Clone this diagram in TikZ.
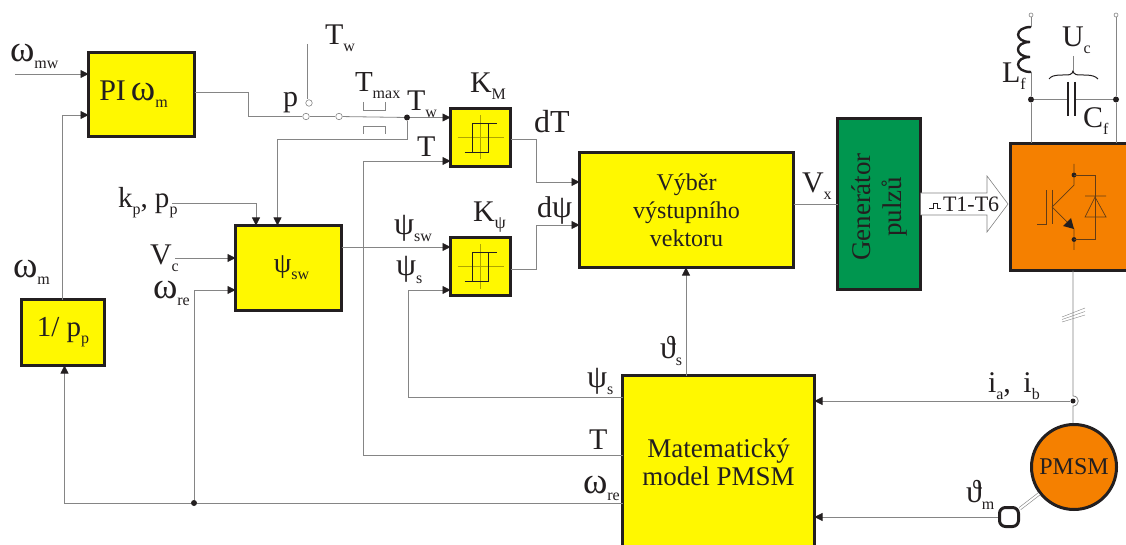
\documentclass[tikz,border=0pt]{standalone}
\usepackage{fontspec}
\setmainfont{Liberation Serif}
\usetikzlibrary{arrows.meta,shapes,positioning,calc}

\definecolor{ink}{HTML}{231F20}
\definecolor{wire}{HTML}{858585}
\definecolor{blockyellow}{HTML}{FFF800}
\definecolor{blockgreen}{HTML}{00964F}
\definecolor{blockorange}{HTML}{F58000}

\newcommand{\fsize}[1]{\fontsize{#1}{#1}\selectfont}
\newcommand{\lowidx}[1]{\raisebox{-7pt}{\fontsize{16}{16}\selectfont #1}}
\newcommand{\grk}[1]{{\fsize{37}#1}}
\newcommand{\psig}{{\fsize{32}ψ}}
% hysteresis mark inside a comparator
\newcommand{\hystmark}[1]{
\begin{scope}[shift={(#1.center)}]
\draw[olive!70!yellow, line width=0.5pt] (-23,0) -- (23,0) (0,-22) -- (0,22);
\draw[ink, line width=1.6pt] (-16,15) -- (8,15) -- (8,-14) -- (-8,-14) (16,-14) -- (-8,-14) -- (-8,15);
\end{scope}
}

\tikzset{
  block/.style={draw=ink, line width=3pt, fill=blockyellow, rectangle, inner sep=0pt, outer sep=0pt, align=center, text=ink},
  lbl/.style={anchor=base west, inner sep=0pt, outer sep=0pt, text=ink, font=\fsize{30}},
  line/.style={draw=wire, line width=0.8pt},
  sig/.style={line, -{Triangle[length=8pt,width=8pt,color=ink]}},
  dotnode/.style={circle, fill=ink, inner sep=0pt, minimum size=6pt},
  contact/.style={circle, draw=wire, fill=white, line width=0.6pt, inner sep=0pt, minimum size=6.5pt},
  terminal/.style={circle, draw=wire, fill=white, line width=0.6pt, inner sep=0pt, minimum size=4pt}
}

\begin{document}
\begin{tikzpicture}[x=1pt, y=-1pt]
\clip (0,0) rectangle (1126,545);
\fill[white] (0,0) rectangle (1126,545);

% blocks
\node[block, minimum width=106pt, minimum height=84pt, font=\fsize{30}] (PI) at (141.5,94.5) {\hspace*{-16pt}\raisebox{-2pt}{PI\,\grk{ω}\lowidx{m}}};
\node[block, minimum width=83pt, minimum height=66pt, font=\fsize{29}] (invpp) at (63,332.5) {1/ p\lowidx{p}};
\node[block, minimum width=106pt, minimum height=85pt, font=\fsize{28}] (psisw) at (288.5,268) {\hspace*{6pt}ψ\lowidx{sw}};
\node[block, minimum width=60pt, minimum height=58pt] (KM) at (480.5,137.5) {};
\node[block, minimum width=60pt, minimum height=58pt] (Kpsi) at (480.5,266.5) {};
\node[block, minimum width=214pt, minimum height=115pt, font=\fsize{24}] (vyber) at (686.5,210) {Výběr\\[4pt]výstupního\\[4pt]vektoru};
\node[block, fill=blockgreen, minimum width=83pt, minimum height=171pt] (gen) at (879,204) {};
\node[text=ink, font=\fsize{27}, align=center, rotate=90, inner sep=0pt] (gentext) at (879,207) {Generátor\\[4pt]pulzů};
\node[block, fill=blockorange, minimum width=120pt, minimum height=127pt] (inv) at (1070,207) {};
\node[block, minimum width=192pt, minimum height=173pt, font=\fsize{27}] (model) at (718.5,462) {Matematický\\[1pt]model PMSM};
\node[circle, draw=ink, line width=3pt, fill=blockorange, minimum size=85pt, inner sep=0pt, text=ink, font=\fsize{24}] (pmsm) at (1074,467) {PMSM};
\node[draw=ink, line width=3pt, rounded corners=6pt, minimum size=19pt, inner sep=0pt] (encoder) at (1009,517) {};
\hystmark{KM}
\hystmark{Kpsi}

% free ends and branch points
\coordinate (wmw) at (15,74);
\coordinate (kpin) at (172,203);
\coordinate (vcin) at (175,258);
\coordinate (twtop) at (307,44);
\node[contact] (swin) at (306,116.5) {};
\node[contact] (swout) at (339,116.5) {};
\node[contact] (swup) at (309,103) {};
\node[dotnode] (jtw) at (407,117.5) {};
\node[dotnode] (jwre) at (194,503) {};
\node[terminal] (termL) at (1031,15) {};
\node[terminal] (termR) at (1116,15) {};
\node[dotnode] (jcapL) at (1031,99.5) {};
\node[dotnode] (jcapR) at (1116,99.5) {};
\node[dotnode, minimum size=5pt] (jcur) at (1073,401) {};

% signals
\draw[sig] (wmw) -- (PI.west |- wmw);
\draw[sig] (invpp.north -| 62,0) -- (62,115) -- (PI.west |- 0,115);
\draw[line] (PI.east |- 0,92) -- (248,92) -- (248,116.5) -- (swin);
\draw[line] (swin.east) -- (swout.west);
\draw[line] (twtop) -- (swup.north -| twtop);
\draw[line] (swout) -- (jtw);
\draw[sig] (jtw) -- (KM.west |- jtw);
\draw[sig] (jtw) -- (407,139) -- (277.5,139) -- (psisw.north -| 277.5,0);
\draw[sig] (kpin) -- (256,203) -- (psisw.north -| 256,0);
\draw[sig] (vcin) -- (psisw.west |- vcin);
\draw[sig] (jwre) -- (194,290) -- (psisw.west |- 0,290);
\draw[sig] (psisw.east |- 0,247) -- (Kpsi.west |- 0,247);
\draw[sig] (model.west |- 0,397) -- (408,397) -- (408,290) -- (Kpsi.west |- 0,290);
\draw[sig] (model.west |- 0,455) -- (363,455) -- (363,161) -- (KM.west |- 0,161);
\draw[line] (model.west |- 0,503) -- (jwre);
\draw[sig] (jwre) -- (64.5,503) -- (invpp.south -| 64.5,0);
\draw[sig] (KM.east |- 0,139) -- (536,139) -- (536,182) -- (vyber.west |- 0,182);
\draw[sig] (Kpsi.east |- 0,269) -- (536,269) -- (536,225) -- (vyber.west |- 0,225);
\draw[sig] (model.north -| 686,0) -- (vyber.south -| 686,0);
\draw[line] (vyber.east |- gen.center) -- (gen.west);
\draw[sig] (jcur) -- (model.east |- jcur);
\draw[sig] (encoder) -- (model.east |- encoder);
\draw[line, double=white, double distance=2pt, line width=0.6pt] (encoder) -- (pmsm);

% pulse arrow
\draw[draw=wire, fill=white, line width=0.6pt] (gen.east |- 0,193) -- (987,193) -- (987,176) -- (1008,204) -- (987,232) -- (987,215) -- (gen.east |- 0,215);
\draw[ink, line width=0.5pt] (929,208) -- (933,208) -- (933,203) -- (937,203) -- (937,208) -- (941,208);
\node[lbl, font=\fsize{22}] (pulselbl) at (943,212) {T1-T6};

% power part
\draw[line] (termL) -- (1031,27);
\draw[ink, line width=2.4pt] (1031,27) .. controls (1014,27) and (1014,42) .. (1030,42) .. controls (1014,42) and (1014,57) .. (1030,57) .. controls (1014,57) and (1014,72) .. (1031,72);
\draw[line] (1031,72) -- (jcapL) -- (inv.north -| jcapL);
\draw[line] (termR) -- (jcapR) -- (inv.north -| jcapR);
\draw[line] (jcapL) -- (1068,99.5) (1075,99.5) -- (jcapR);
\draw[ink, line width=2.6pt] (1068,82) -- (1068,116) (1075,82) -- (1075,116);
\draw[ink, line width=1pt] (1049,79) .. controls (1053,73) and (1066,76) .. (1070,74.5) .. controls (1071.5,74) and (1073,72.5) .. (1073,71) .. controls (1073,72.5) and (1074.5,74) .. (1076,74.5) .. controls (1080,76) and (1093,73) .. (1098,79);
\draw[line] (1073,56) -- (1073,71);

% switch element in the inverter
\draw[ink!70!blockorange, line width=0.7pt] (1037,224) -- (1046,224) -- (1046,190) (1052,190) -- (1052,224);
\draw[ink!70!blockorange, line width=0.7pt] (1074,164) -- (1074,185) -- (1052,207) -- (1074,229) -- (1074,250);
\fill[ink] (1074,229) -- (1063,226) -- (1071,218) -- cycle;
\fill[ink] (1074,175) circle (2.4) (1074,239.5) circle (2.4);
\draw[ink!70!blockorange, line width=0.7pt] (1074,175) -- (1095,175) -- (1095,239.5) -- (1074,239.5);
\draw[ink!70!blockorange, line width=0.7pt] (1085,196) -- (1106,196) (1095,197) -- (1085,217) -- (1106,217) -- cycle;

% motor feed
\draw[line] (inv.south -| 1073,0) -- (1073,396) .. controls (1080,396) and (1080,406) .. (1073,406) -- (pmsm.north -| 1073,0);
\draw[wire, line width=0.4pt] (1062,317) -- (1085,308) (1062,319.5) -- (1085,311.5) (1062,322) -- (1085,315);

% switch limits
\draw[wire, line width=0.6pt] (363,102) -- (363,110) -- (385,110) -- (385,102);
\draw[wire, line width=0.6pt] (363,134) -- (363,126) -- (385,126) -- (385,134);

% labels
\node[lbl] (wmwlbl) at (10,62) {\grk{ω}\lowidx{mw}};
\node[lbl] (wmlbl) at (13,277) {\grk{ω}\lowidx{m}};
\node[lbl, font=\fsize{29}] (kplbl) at (118,208) {k\lowidx{p}, p\lowidx{p}};
\node[lbl] (vclbl) at (150,265) {V\lowidx{c}};
\node[lbl] (wrelbl) at (153,298) {\grk{ω}\lowidx{re}};
\node[lbl] (twtoplbl) at (325,45) {T\lowidx{w}};
\node[lbl, font=\fsize{29}] (tmaxlbl) at (355,92) {T\lowidx{max}};
\node[lbl] (plbl) at (283,107) {p};
\node[lbl] (twlbl) at (407,111) {T\lowidx{w}};
\node[lbl] (tlbl) at (417,157) {T};
\node[lbl] (kmlbl) at (470,93) {K\lowidx{M}};
\node[lbl, font=\fsize{32}] (dtlbl) at (534,133) {dT};
\node[lbl] (pswlbl) at (394,235) {\psig\lowidx{sw}};
\node[lbl] (pslbl) at (396,276) {\psig\lowidx{s}};
\node[lbl] (kpsilbl) at (473,222) {K\lowidx{\fsize{18}ψ}};
\node[lbl] (dpsilbl) at (537,218) {d\psig};
\node[lbl] (vxlbl) at (802,193) {V\lowidx{x}};
\node[lbl] (thslbl) at (660,358) {\fsize{32}ϑ\lowidx{s}};
\node[lbl] (psmlbl) at (587,387) {\psig\lowidx{s}};
\node[lbl] (tmlbl) at (589,449) {T};
\node[lbl] (wremlbl) at (583,493) {\grk{ω}\lowidx{re}};
\node[lbl] (iablbl) at (988,392) {i\lowidx{a}, \,i\lowidx{b}};
\node[lbl] (thmlbl) at (966,502) {\fsize{32}ϑ\lowidx{m}};
\node[lbl] (uclbl) at (1062,47) {U\lowidx{c}};
\node[lbl] (lflbl) at (1002,83) {L\lowidx{f}};
\node[lbl] (cflbl) at (1083,128) {C\lowidx{f}};
\end{tikzpicture}
\end{document}
